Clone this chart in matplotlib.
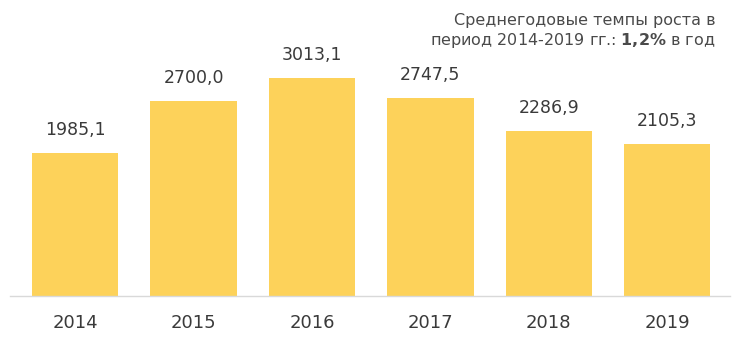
import matplotlib
matplotlib.use('Agg')
import matplotlib.pyplot as plt

# Market volume by year
years = ['2014', '2015', '2016', '2017', '2018', '2019']
values = [1985.1, 2700.0, 3013.1, 2747.5, 2286.9, 2105.3]
value_labels = ['1985,1', '2700,0', '3013,1', '2747,5', '2286,9', '2105,3']

note_line1 = 'Среднегодовые темпы роста в'
note_line2 = r'период 2014-2019 гг.: $\mathbf{1{,}2\%}$ в год'

BAR_COLOR = '#FDD25A'
TEXT_COLOR = '#3A3A3A'

fig = plt.figure(figsize=(7.32, 3.4), dpi=100)
ax = fig.add_axes([10 / 732, 44 / 340, 720 / 732, 296 / 340])

x = list(range(len(years)))
bars = ax.bar(x, values, width=0.73, color=BAR_COLOR, zorder=2)

for xi, v, lab in zip(x, values, value_labels):
    ax.annotate(lab, (xi, v), xytext=(0, 13), textcoords='offset points',
                ha='center', va='baseline', fontsize=12.5, color=TEXT_COLOR)

ax.set_xlim(-0.55, 5.53)
ax.set_ylim(0, 4100)
ax.set_xticks(x)
ax.set_xticklabels(years, fontsize=13, color=TEXT_COLOR)
ax.tick_params(axis='x', length=0, pad=13)
ax.set_yticks([])

for side in ('top', 'right', 'left'):
    ax.spines[side].set_visible(False)
ax.spines['bottom'].set_color('#D9D9D9')
ax.spines['bottom'].set_linewidth(1.0)

# growth-rate note in the top right corner
fig.text(0.977, 1 - 20 / 340, note_line1, ha='right', va='center',
         fontsize=11.5, color='#4A4A4A')
fig.text(0.977, 1 - 41 / 340, note_line2, ha='right', va='center',
         fontsize=11.5, color='#4A4A4A')

fig.savefig('out.png', dpi=100)
